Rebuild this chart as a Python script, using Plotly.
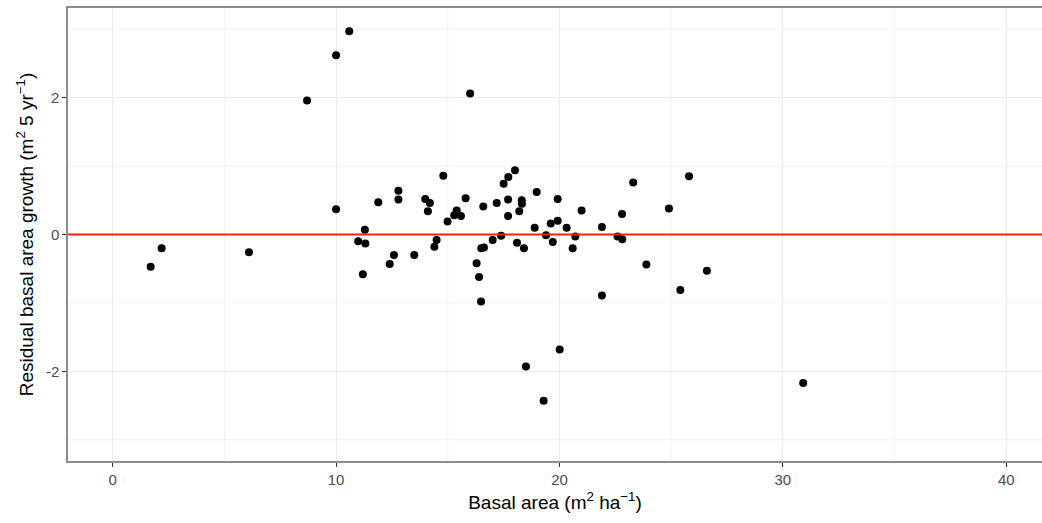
import plotly.graph_objects as go

# Stand basal area (m2/ha) and residual basal-area growth for each plot
basal_area = [
    1.70, 2.19, 6.10, 8.70, 10.00, 10.59, 16.00, 10.00, 11.89, 12.79,
    12.79, 11.29, 10.99, 11.31, 12.59, 12.40, 13.50, 11.20, 14.80, 13.99,
    14.20, 14.11, 15.80, 15.40, 15.29, 15.59, 14.99, 14.50, 14.40, 16.59,
    18.01, 17.71, 17.50, 17.19, 17.70, 18.31, 18.32, 18.20, 17.70, 18.98,
    18.89, 17.39, 17.01, 18.10, 18.41, 16.50, 16.62, 16.29, 16.40, 16.49,
    19.92, 19.61, 19.92, 19.40, 19.70, 20.32, 20.99, 20.71, 20.59, 21.90,
    22.80, 22.60, 22.81, 23.30, 24.90, 25.80, 23.89, 26.60, 25.41, 21.90,
    20.01, 18.50, 19.29, 30.91,
]
residual_growth = [
    -0.47, -0.20, -0.26, 1.96, 2.62, 2.97, 2.06, 0.37, 0.47, 0.64,
    0.51, 0.07, -0.10, -0.13, -0.30, -0.43, -0.30, -0.58, 0.86, 0.52,
    0.46, 0.34, 0.53, 0.35, 0.28, 0.27, 0.19, -0.08, -0.18, 0.41,
    0.94, 0.84, 0.74, 0.46, 0.51, 0.50, 0.45, 0.34, 0.27, 0.62,
    0.10, -0.02, -0.08, -0.12, -0.20, -0.20, -0.19, -0.42, -0.62, -0.98,
    0.52, 0.16, 0.20, -0.01, -0.11, 0.10, 0.35, -0.03, -0.20, 0.11,
    0.30, -0.03, -0.07, 0.76, 0.38, 0.85, -0.44, -0.53, -0.81, -0.89,
    -1.68, -1.93, -2.43, -2.17,
]

x_ticks = [0, 10, 20, 30, 40]
y_ticks = [-2, 0, 2]
x_minor = [5, 15, 25, 35]
y_minor = [-3, -1, 1, 3]

X_RANGE = [-2.0, 41.6]
Y_RANGE = [-3.31, 3.31]

fig = go.Figure()

fig.add_trace(go.Scatter(
    x=basal_area, y=residual_growth, mode="markers",
    marker=dict(color="black", size=8, line=dict(width=0)),
    showlegend=False, hoverinfo="x+y",
))

# Minor grid lines
for v in x_minor:
    fig.add_shape(type="line", xref="x", yref="paper", x0=v, x1=v, y0=0, y1=1,
                  line=dict(color="#F2F2F2", width=1), layer="below")
for v in y_minor:
    fig.add_shape(type="line", xref="paper", yref="y", x0=0, x1=1, y0=v, y1=v,
                  line=dict(color="#F2F2F2", width=1), layer="below")

# Zero reference line
fig.add_shape(type="line", xref="paper", yref="y", x0=0, x1=1, y0=0, y1=0,
              line=dict(color="#FF2200", width=2), layer="above")

axis_font = dict(family="Liberation Sans, Arial, sans-serif", size=15, color="#4D4D4D")
title_font = dict(family="Liberation Sans, Arial, sans-serif", size=19, color="black")

fig.update_layout(
    width=1042, height=523,
    margin=dict(l=68, r=0, t=8, b=62),
    paper_bgcolor="white", plot_bgcolor="white",
    xaxis=dict(
        range=X_RANGE, tickvals=x_ticks, ticktext=[str(v) for v in x_ticks],
        showgrid=True, gridcolor="#EBEBEB", gridwidth=1.2, zeroline=False,
        showline=True, linecolor="#8C8C8C", linewidth=1.5, mirror=True,
        ticks="outside", ticklen=4, tickwidth=1.2, tickcolor="#333333",
        tickfont=axis_font,
        title=dict(text="Basal area (m<sup>2</sup> ha<sup>\u22121</sup>)",
                   font=title_font, standoff=9),
    ),
    yaxis=dict(
        range=Y_RANGE, tickvals=y_ticks, ticktext=[str(v) for v in y_ticks],
        showgrid=True, gridcolor="#EBEBEB", gridwidth=1.2, zeroline=False,
        showline=True, linecolor="#8C8C8C", linewidth=1.5, mirror=False,
        ticks="outside", ticklen=4, tickwidth=1.2, tickcolor="#333333",
        tickfont=axis_font,
        title=dict(text="Residual basal area growth (m<sup>2</sup> 5 yr<sup>\u22121</sup>)",
                   font=title_font, standoff=7),
    ),
)

fig.write_html("out.html")
